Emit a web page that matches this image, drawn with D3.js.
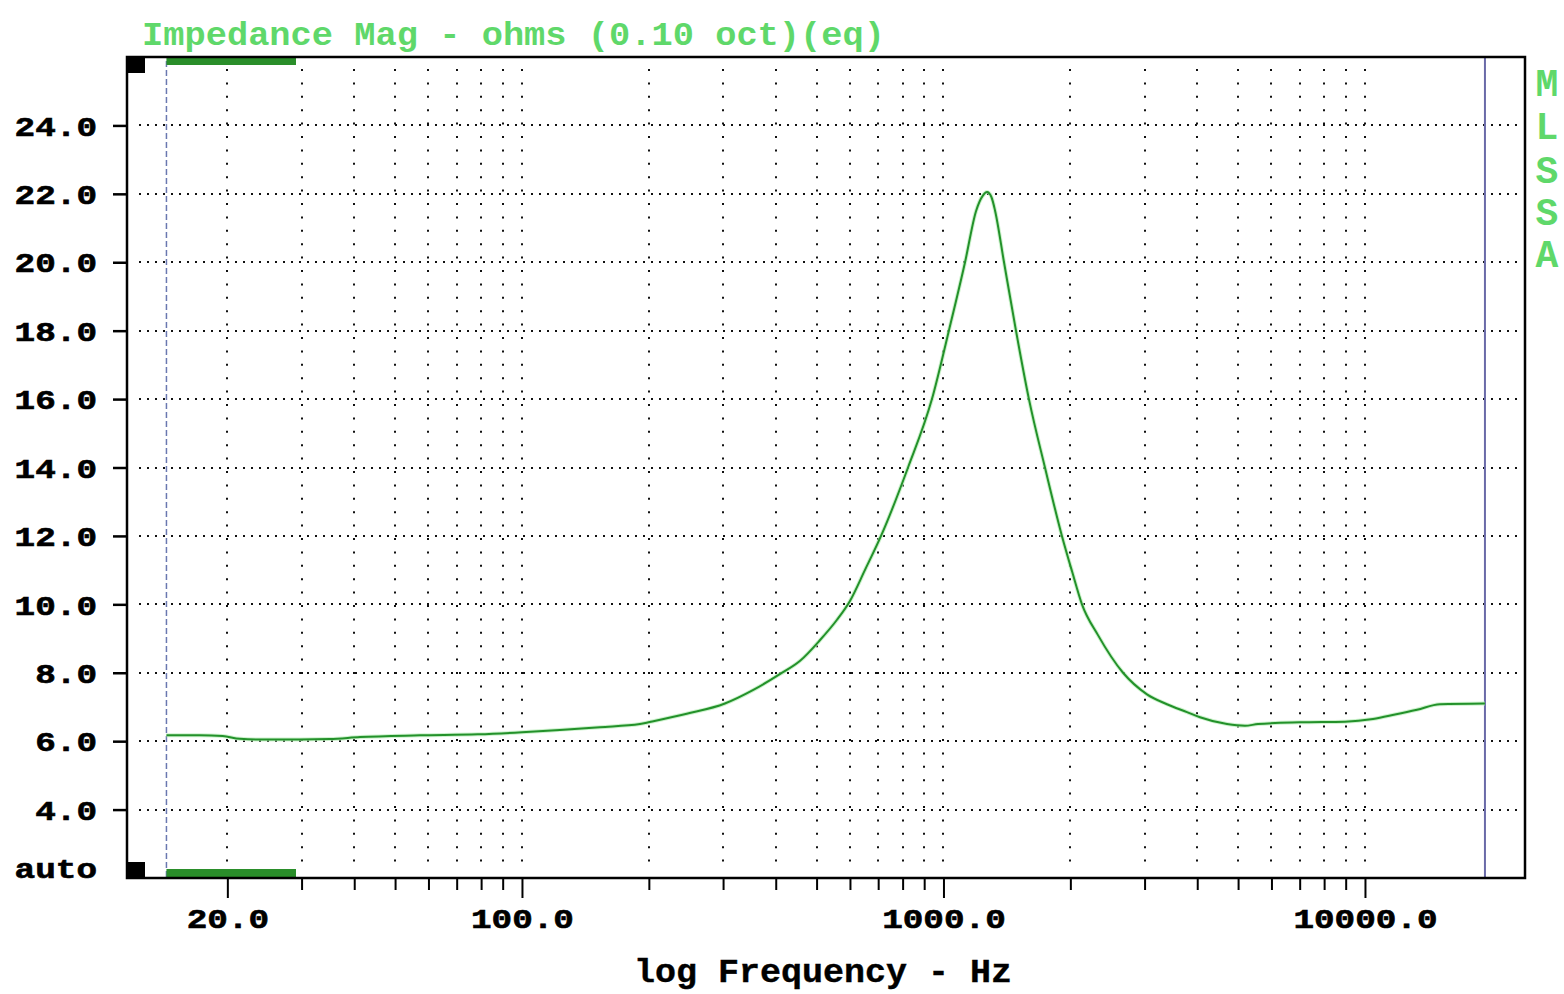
<!DOCTYPE html>
<html>
<head>
<meta charset="utf-8">
<script src="https://cdn.jsdelivr.net/npm/d3@7"></script>
<style>
  html, body { margin: 0; padding: 0; background: #ffffff; }
  svg { display: block; }
</style>
</head>
<body>
<svg id="chart" width="1564" height="994"></svg>
<script>
// ---- data ----
const freqs = [14.34, 17.2, 19.5, 21.4, 24, 29.7, 35.0, 41.3, 57.3, 78.6, 100, 123, 153, 190.5, 201, 246, 303, 353, 409, 457, 509, 559, 600, 651, 711, 824, 939, 1030, 1125, 1195, 1240, 1269, 1300, 1326, 1392, 1486, 1595, 1741, 1910, 2020, 2131, 2326, 2667, 3040, 3390, 3782, 4060, 4707, 5192, 5574, 7012, 8967, 10450, 11784, 13290, 15060, 19260];
const impedance = [6.17, 6.17, 6.15, 6.07, 6.05, 6.05, 6.06, 6.12, 6.17, 6.2, 6.26, 6.33, 6.41, 6.5, 6.56, 6.8, 7.1, 7.49, 7.96, 8.35, 8.95, 9.55, 10.1, 11.0, 12.0, 14.0, 16.0, 18.0, 20.0, 21.5, 21.95, 22.05, 21.9, 21.5, 20.0, 18.0, 16.0, 14.0, 12.0, 10.95, 10.0, 9.1, 8.0, 7.37, 7.08, 6.85, 6.7, 6.5, 6.45, 6.5, 6.55, 6.57, 6.65, 6.78, 6.92, 7.08, 7.1];

const yTicks = [4, 6, 8, 10, 12, 14, 16, 18, 20, 22, 24];
const xMajorTicks = [20, 100, 1000, 10000];
const xMinorTicks = [30, 40, 50, 60, 70, 80, 90, 200, 300, 400, 500, 600, 700, 800, 900, 2000, 3000, 4000, 5000, 6000, 7000, 8000, 9000];
const xGridFreqs = [20, 30, 40, 50, 60, 70, 80, 90, 100, 200, 300, 400, 500, 600, 700, 800, 900, 1000, 2000, 3000, 4000, 5000, 6000, 7000, 8000, 9000, 10000];
const cursorLeft = 14.34;     // dashed blue marker
const cursorRight = 19260;    // solid blue marker
const windowBand = [14.34, 29.1]; // green bars
const titleText = "Impedance Mag - ohms (0.10 oct)(eq)";
const xAxisTitle = "log Frequency - Hz";
const sideLetters = ["M", "L", "S", "S", "A"];

// ---- layout ----
const L = 127, R = 1525, T = 57, B = 878;
const CH = 20.6; // character advance of the pixel font
const svg = d3.select("#chart");
const x = d3.scaleLog().domain([11.56, 23970]).range([L, R]);
const y = d3.scaleLinear().domain([2, 26]).range([B, T]);
const mono = "'Liberation Mono', 'DejaVu Sans Mono', monospace";

// horizontal dotted grid
svg.append("g").selectAll("line").data(yTicks).join("line")
  .attr("x1", 139).attr("x2", 1521)
  .attr("y1", d => Math.round(y(d))).attr("y2", d => Math.round(y(d)))
  .attr("stroke", "#111").attr("stroke-width", 2)
  .attr("stroke-dasharray", "2 6");

// vertical dotted grid
svg.append("g").selectAll("line").data(xGridFreqs).join("line")
  .attr("x1", d => Math.round(x(d))).attr("x2", d => Math.round(x(d)))
  .attr("y1", T + 12).attr("y2", B - 6)
  .attr("stroke", "#111").attr("stroke-width", 2)
  .attr("stroke-dasharray", "2 11.4");

// cursor lines
svg.append("line")
  .attr("x1", x(cursorLeft)).attr("x2", x(cursorLeft))
  .attr("y1", T + 4).attr("y2", B)
  .attr("stroke", "#6a78b0").attr("stroke-width", 1.5)
  .attr("stroke-dasharray", "6 3");
svg.append("line")
  .attr("x1", x(cursorRight)).attr("x2", x(cursorRight))
  .attr("y1", T).attr("y2", B)
  .attr("stroke", "#6a6aa8").attr("stroke-width", 2);

// curve
const line = d3.line()
  .x((d, i) => x(freqs[i]))
  .y(d => y(d))
  .curve(d3.curveMonotoneX);
svg.append("path").datum(impedance)
  .attr("d", line)
  .attr("fill", "none")
  .attr("stroke", "#b8ecb8").attr("stroke-width", 4).attr("opacity", 0.7);
svg.append("path").datum(impedance)
  .attr("d", line)
  .attr("fill", "none")
  .attr("stroke", "#23912a").attr("stroke-width", 2);

// green window bars
svg.append("rect").attr("x", x(windowBand[0])).attr("y", T)
  .attr("width", x(windowBand[1]) - x(windowBand[0])).attr("height", 8).attr("fill", "#2a8e2a");
svg.append("rect").attr("x", x(windowBand[0])).attr("y", B - 9)
  .attr("width", x(windowBand[1]) - x(windowBand[0])).attr("height", 9).attr("fill", "#2a8e2a");

// black corner squares
svg.append("rect").attr("x", L).attr("y", T).attr("width", 18).attr("height", 16).attr("fill", "#000");
svg.append("rect").attr("x", L).attr("y", B - 16).attr("width", 18).attr("height", 16).attr("fill", "#000");

// frame
svg.append("rect").attr("x", L).attr("y", T).attr("width", R - L).attr("height", B - T)
  .attr("fill", "none").attr("stroke", "#000").attr("stroke-width", 2.5);

// x axis: minor ticks
const xMinor = svg.append("g").attr("transform", `translate(0,${B})`)
  .call(d3.axisBottom(x).tickValues(xMinorTicks).tickSize(12).tickFormat(""));
// x axis: major ticks with labels
const xMajor = svg.append("g").attr("transform", `translate(0,${B})`)
  .call(d3.axisBottom(x).tickValues(xMajorTicks).tickSize(20).tickFormat(d3.format(".1f")));
[xMinor, xMajor].forEach(g => {
  g.select(".domain").remove();
  g.selectAll(".tick line").attr("stroke", "#000").attr("stroke-width", 2);
});
xMajor.selectAll(".tick text")
  .attr("y", 41).attr("dy", "0.35em")
  .attr("fill", "#000")
  .style("font-family", mono).style("font-weight", "bold").style("font-size", "27px")
  .attr("stroke", "#000").attr("stroke-width", 0.6)
  .attr("textLength", function() { return this.textContent.length * CH; })
  .attr("lengthAdjust", "spacingAndGlyphs");

// y axis
const yAx = svg.append("g").attr("transform", `translate(${L},0)`)
  .call(d3.axisLeft(y).tickValues(yTicks).tickSize(14).tickPadding(16).tickFormat(d3.format(".1f")));
yAx.select(".domain").remove();
yAx.selectAll(".tick line").attr("stroke", "#000").attr("stroke-width", 2.5);
yAx.selectAll(".tick text")
  .attr("dy", "0.36em")
  .attr("fill", "#000")
  .style("font-family", mono).style("font-weight", "bold").style("font-size", "27px")
  .attr("stroke", "#000").attr("stroke-width", 0.6)
  .attr("textLength", function() { return this.textContent.length * CH; })
  .attr("lengthAdjust", "spacingAndGlyphs");

// "auto" label
svg.append("text").attr("x", 97).attr("y", 870).attr("dy", "0.3em")
  .attr("text-anchor", "end").attr("fill", "#000")
  .attr("stroke", "#000").attr("stroke-width", 0.6)
  .style("font-family", mono).style("font-weight", "bold").style("font-size", "27px")
  .attr("textLength", 4 * CH).attr("lengthAdjust", "spacingAndGlyphs")
  .text("auto");

// title
svg.append("text").attr("x", 142).attr("y", 45)
  .attr("fill", "#5fd86a")
  .style("font-family", mono).style("font-weight", "bold").style("font-size", "34px")
  .attr("textLength", 743).attr("lengthAdjust", "spacingAndGlyphs")
  .text(titleText);

// x axis title
svg.append("text").attr("x", 634).attr("y", 982)
  .attr("fill", "#000")
  .attr("stroke", "#000").attr("stroke-width", 0.4)
  .style("font-family", mono).style("font-weight", "bold").style("font-size", "33px")
  .attr("textLength", 378).attr("lengthAdjust", "spacingAndGlyphs")
  .text(xAxisTitle);

// side vertical letters
const sideY = [82, 125, 169, 211, 253];
svg.append("g").selectAll("text").data(sideLetters).join("text")
  .attr("x", 1547).attr("y", (d, i) => sideY[i]).attr("dy", "0.36em")
  .attr("text-anchor", "middle").attr("fill", "#5fd86a")
  .style("font-family", mono).style("font-weight", "bold").style("font-size", "38px")
  .text(d => d);
</script>
</body>
</html>
